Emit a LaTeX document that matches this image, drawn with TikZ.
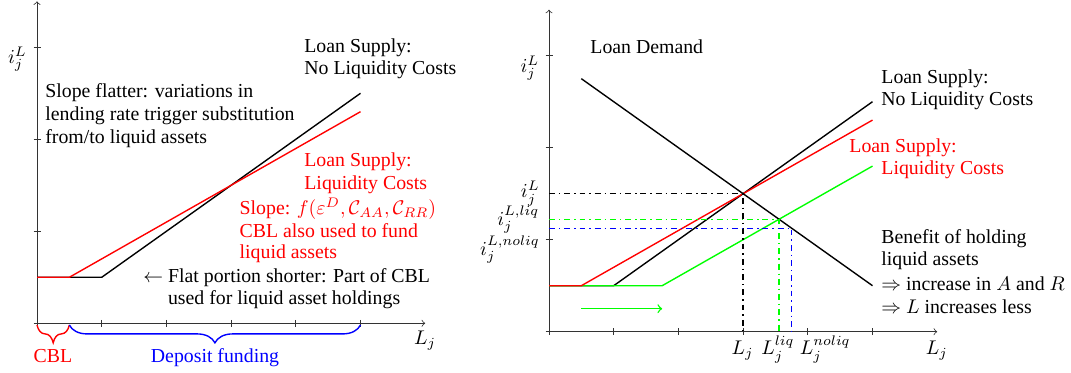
\documentclass[tikz,border=0pt]{standalone}
\usepackage{fontspec}
\setmainfont{Liberation Serif}
\usetikzlibrary{decorations.pathreplacing}
\begin{document}
\begin{tikzpicture}[x=0.505pt,y=-0.505pt,
  axisline/.style={line width=0.4pt, black!80, ->},
  tickmark/.style={line width=0.4pt, black!80},
  curve/.style={line width=0.7pt},
  guide/.style={line width=0.7pt, dash dot},
  lbl/.style={inner sep=0pt, anchor=base west},
  clbl/.style={inner sep=0pt, anchor=base},
  bracestyle/.style={line width=0.7pt, decorate, decoration={brace, mirror, amplitude=9pt}}]
\useasboundingbox (0,0) rectangle (1071,373);

% ---------------- left plot ----------------
\coordinate (LO) at (37,323.3);
\coordinate (LX) at (425.2,323.3);
\coordinate (LY) at (37,1.3);
\draw[axisline] (LO) -- (LX);
\draw[axisline] (LO) -- (LY);
\foreach \k in {0,...,5} \draw[tickmark] ({37+64.7*\k},319.8) -- ++(0,7);
\foreach \k in {0,...,3} \draw[tickmark] (33.5,{323.3-92*\k}) -- ++(7,0);

\coordinate (LB0) at (37,277.3);
\coordinate (LB1) at (101.7,277.3);
\coordinate (LB2) at (360.5,93.3);
\coordinate (LR1) at (69.35,277.3);
\coordinate (LR2) at (360.5,111.7);
\draw[curve] (LB0) -- (LB1) -- (LB2);
\draw[curve,red] (LB0) -- (LR1) -- (LR2);

\coordinate (BR0) at (37,325);
\coordinate (BR1) at (69.35,325);
\coordinate (BR2) at (360.5,325);
\draw[bracestyle,red] (BR0) -- (BR1);
\draw[bracestyle,blue] (BR1) -- (BR2);
\node[clbl,text=red] (cbl) at (53,363) {CBL};
\node[clbl,text=blue] (dep) at (215,363) {Deposit funding};

\node[inner sep=0pt] (lylab) at (17.5,59) {$i_j^L$};
\node[clbl] (lxlab) at (425,344.5) {$L_j$};

\node[lbl] (ls1) at (304,52.3) {Loan Supply:};
\node[lbl] (ls2) at (304,75) {No Liquidity Costs};
\node[lbl] (sf1) at (45,97.5) {Slope flatter: variations in};
\node[lbl] (sf2) at (45,120.5) {lending rate trigger substitution};
\node[lbl] (sf3) at (45,143.5) {from/to liquid assets};
\node[lbl,text=red] (lr1) at (304,166.7) {Loan Supply:};
\node[lbl,text=red] (lr2) at (304,189.3) {Liquidity Costs};
\node[lbl,text=red] (sl1) at (239.3,214.5) {Slope: $f(\varepsilon^D,\mathcal{C}_{AA},\mathcal{C}_{RR})$};
\node[lbl,text=red] (sl2) at (239.3,237.5) {CBL also used to fund};
\node[lbl,text=red] (sl3) at (239.3,259) {liquid assets};
\node[lbl] (fa) at (143,282.5) {$\leftarrow$};
\node[lbl] (fp1) at (167.7,282.5) {Flat portion shorter: Part of CBL};
\node[lbl] (fp2) at (167.7,304.3) {used for liquid asset holdings};

% ---------------- right plot ----------------
\coordinate (RO) at (549,331.7);
\coordinate (RX) at (937.2,331.7);
\coordinate (RY) at (549,9.7);
\draw[axisline] (RO) -- (RX);
\draw[axisline] (RO) -- (RY);
\foreach \k in {0,...,5} \draw[tickmark] ({549+64.7*\k},328.2) -- ++(0,7);
\foreach \k in {0,...,3} \draw[tickmark] (545.5,{331.7-92*\k}) -- ++(7,0);

\coordinate (RB0) at (549,285.7);
\coordinate (RB1) at (613.7,285.7);
\coordinate (RB2) at (872.5,101.7);
\coordinate (RR1) at (581.35,285.7);
\coordinate (RR2) at (872.5,120.1);
\coordinate (RG1) at (662.2,285.7);
\coordinate (RG2) at (872.5,166.1);
\coordinate (RD1) at (581.35,78.7);
\coordinate (RD2) at (872.5,285.7);
\draw[curve] (RB0) -- (RB1) -- (RB2);
\draw[curve,green] (RB0) -- (RG1) -- (RG2);
\draw[curve,red] (RB0) -- (RR1) -- (RR2);
\draw[curve] (RD1) -- (RD2);

\coordinate (E) at (743.1,193.7);
\coordinate (G) at (779.1,219.25);
\coordinate (B) at (791.6,228.2);
\draw[guide] (E -| RO) -- (E) -- (E |- RO);
\draw[guide,green] (G -| RO) -- (G) -- (G |- RO);
\draw[guide,blue] (B -| RO) -- (B) -- (B |- RO);

\coordinate (GA0) at (581.35,308.7);
\coordinate (GA1) at (662.2,308.7);
\draw[curve,green,->] (GA0) -- (GA1);

\node[inner sep=0pt] (rylab) at (530,68) {$i_j^L$};
\node[clbl] (rxlab) at (936.7,355) {$L_j$};
\node[inner sep=0pt,anchor=east] (ty1) at (540,193.5) {$i_j^L$};
\node[inner sep=0pt,anchor=east] (ty2) at (539.5,220) {$i_j^{L,liq}$};
\node[inner sep=0pt,anchor=east] (ty3) at (540,250) {$i_j^{L,noliq}$};
\node[clbl] (tx1) at (742.5,355) {$L_j$};
\node[lbl] (tx2) at (761,355) {$L_j^{liq}$};
\node[lbl] (tx3) at (799.5,355) {$L_j^{noliq}$};

\node[lbl] (ld) at (590,54) {Loan Demand};
\node[lbl] (rs1) at (881,83.3) {Loan Supply:};
\node[lbl] (rs2) at (881,106) {No Liquidity Costs};
\node[lbl,text=red] (rl1) at (849,152.3) {Loan Supply:};
\node[lbl,text=red] (rl2) at (881,175) {Liquidity Costs};
\node[lbl] (bn1) at (881,243.3) {Benefit of holding};
\node[lbl] (bn2) at (881,266) {liquid assets};
\node[lbl] (bn3) at (881,291) {$\Rightarrow$ increase in $A$ and $R$};
\node[lbl] (bn4) at (881,313.3) {$\Rightarrow$ $L$ increases less};
\end{tikzpicture}
\end{document}
